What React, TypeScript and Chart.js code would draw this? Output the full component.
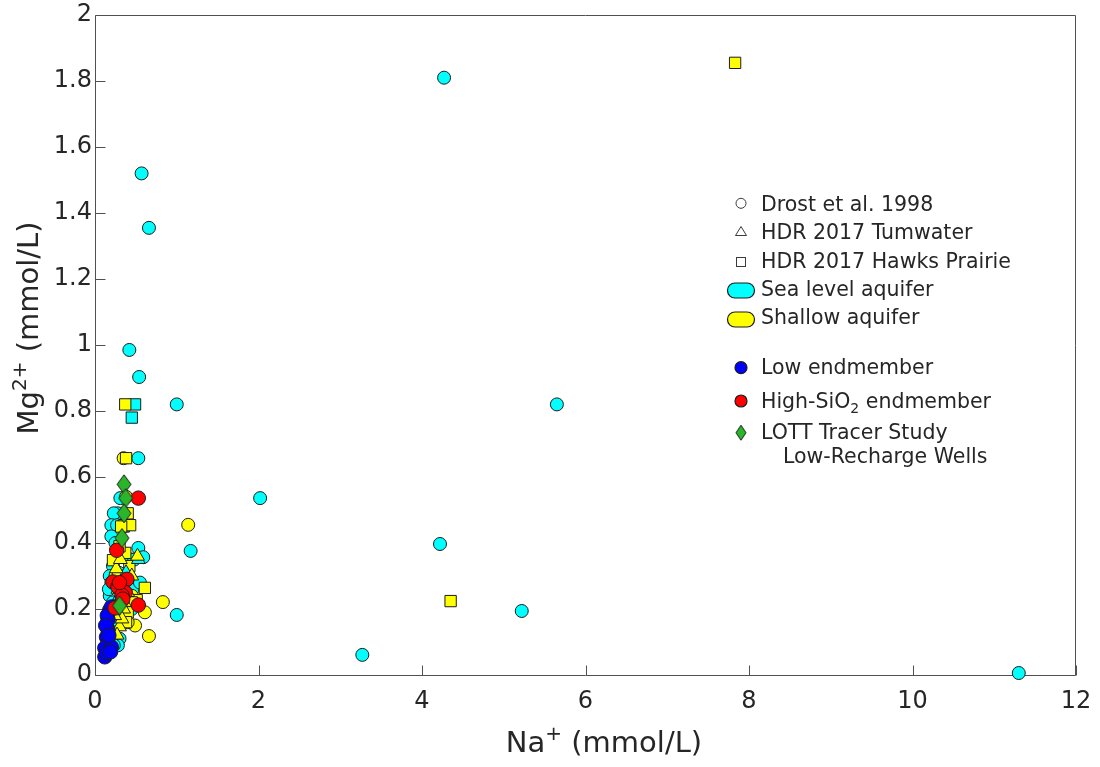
import React, { useEffect, useRef } from "react";
import { Chart, registerables } from "chart.js";

Chart.register(...registerables);

// ---------- axis ticks ----------
const xTicks = [0, 2, 4, 6, 8, 10, 12];
const yTicks = [0, 0.2, 0.4, 0.6, 0.8, 1, 1.2, 1.4, 1.6, 1.8, 2];

// ---------- Drost et al. 1998 (circles) ----------
const seaDrostNa = [4.27, 0.57, 0.66, 0.42, 0.54, 1.0, 5.65, 2.02, 4.22, 1.17, 5.22, 1.0, 3.27, 11.3, 0.53, 0.31, 0.28, 0.23, 0.2, 0.27, 0.53, 0.59, 0.44, 0.2, 0.25, 0.3, 0.35, 0.22, 0.29, 0.37, 0.18, 0.2, 0.26, 0.32, 0.42, 0.46, 0.18, 0.22, 0.3, 0.4, 0.45, 0.35, 0.28, 0.25, 0.22, 0.3, 0.28, 0.2, 0.48, 0.55, 0.23, 0.17];
const seaDrostMg = [1.81, 1.52, 1.355, 0.985, 0.903, 0.82, 0.82, 0.536, 0.397, 0.376, 0.194, 0.182, 0.061, 0.006, 0.657, 0.536, 0.49, 0.49, 0.454, 0.454, 0.385, 0.357, 0.35, 0.42, 0.4, 0.38, 0.36, 0.33, 0.31, 0.3, 0.3, 0.28, 0.25, 0.27, 0.27, 0.26, 0.24, 0.22, 0.22, 0.21, 0.2, 0.18, 0.17, 0.15, 0.13, 0.11, 0.09, 0.1, 0.35, 0.28, 0.09, 0.26];
const shallowDrostNa = [1.14, 0.83, 0.66, 0.61, 0.35, 0.38, 0.49, 0.45, 0.25, 0.31, 0.4];
const shallowDrostMg = [0.455, 0.221, 0.118, 0.19, 0.657, 0.54, 0.15, 0.24, 0.3, 0.2, 0.16];

// ---------- HDR 2017 Tumwater (triangles) ----------
const seaTumNa = [0.53, 0.38, 0.3];
const seaTumMg = [0.35, 0.31, 0.24];
const shallowTumNa = [0.26, 0.3, 0.27, 0.35, 0.33, 0.4, 0.45, 0.28, 0.31, 0.36, 0.24, 0.52];
const shallowTumMg = [0.322, 0.146, 0.121, 0.2, 0.17, 0.25, 0.3, 0.26, 0.35, 0.22, 0.18, 0.36];

// ---------- HDR 2017 Hawks Prairie (squares) ----------
const seaHawksNa = [0.49, 0.45, 0.35];
const seaHawksMg = [0.82, 0.78, 0.45];
const shallowHawksNa = [7.83, 4.35, 0.37, 0.38, 0.36, 0.43, 0.4, 0.37, 0.22, 0.61, 0.51, 0.32, 0.3, 0.42, 0.28, 0.35, 0.45, 0.4, 0.38, 0.25];
const shallowHawksMg = [1.855, 0.224, 0.82, 0.657, 0.454, 0.454, 0.49, 0.37, 0.348, 0.264, 0.227, 0.45, 0.39, 0.33, 0.3, 0.26, 0.22, 0.19, 0.16, 0.28];

// ---------- endmembers ----------
const lowEndNa = [0.18, 0.2, 0.16, 0.16, 0.14, 0.16, 0.12, 0.2, 0.12, 0.14, 0.15, 0.13, 0.17, 0.19];
const lowEndMg = [0.197, 0.206, 0.167, 0.136, 0.115, 0.097, 0.082, 0.085, 0.055, 0.067, 0.18, 0.15, 0.12, 0.07];
const highSiNa = [0.53, 0.265, 0.22, 0.39, 0.28, 0.37, 0.33, 0.53, 0.245, 0.34, 0.3];
const highSiMg = [0.536, 0.378, 0.282, 0.29, 0.267, 0.25, 0.242, 0.212, 0.203, 0.23, 0.28];

// ---------- LOTT Tracer Study ----------
const lottNa = [0.355, 0.375, 0.355, 0.33, 0.3];
const lottMg = [0.578, 0.536, 0.49, 0.415, 0.21];

const FONT = '"DejaVu Sans", Verdana, sans-serif';
const TEXT = "#262626";
const EDGE = "#1c1c1c";
const CYAN = "#00ffff";
const YELLOW = "#ffff00";
const BLUE = "#0000ff";
const RED = "#ff0000";
const GREEN = "#2ab52a";

const pts = (xs: number[], ys: number[]) => xs.map((x, i) => ({ x, y: ys[i] }));

function diamond(w: number, h: number, fill: string) {
  const c = document.createElement("canvas");
  c.width = w + 2;
  c.height = h + 2;
  const g = c.getContext("2d")!;
  g.beginPath();
  g.moveTo(c.width / 2, 1);
  g.lineTo(c.width - 1, c.height / 2);
  g.lineTo(c.width / 2, c.height - 1);
  g.lineTo(1, c.height / 2);
  g.closePath();
  g.fillStyle = fill;
  g.fill();
  g.lineWidth = 1;
  g.strokeStyle = EDGE;
  g.stroke();
  return c;
}

const fmt = (v: number) => String(Math.round(v * 10) / 10);

function drawParts(ctx: CanvasRenderingContext2D, parts: { t: string; s: number; dy: number }[], cx: number, y: number) {
  let total = 0;
  for (const p of parts) {
    ctx.font = `${p.s}px ${FONT}`;
    total += ctx.measureText(p.t).width;
  }
  let x = cx - total / 2;
  for (const p of parts) {
    ctx.font = `${p.s}px ${FONT}`;
    ctx.fillText(p.t, x, y + p.dy);
    x += ctx.measureText(p.t).width;
  }
}

function pill(ctx: CanvasRenderingContext2D, cx: number, cy: number, w: number, h: number, fill: string) {
  const r = h / 2;
  ctx.beginPath();
  ctx.moveTo(cx - w / 2 + r, cy - r);
  ctx.lineTo(cx + w / 2 - r, cy - r);
  ctx.arc(cx + w / 2 - r, cy, r, -Math.PI / 2, Math.PI / 2);
  ctx.lineTo(cx - w / 2 + r, cy + r);
  ctx.arc(cx - w / 2 + r, cy, r, Math.PI / 2, (3 * Math.PI) / 2);
  ctx.closePath();
  ctx.fillStyle = fill;
  ctx.fill();
  ctx.lineWidth = 1.2;
  ctx.strokeStyle = EDGE;
  ctx.stroke();
}

const framePlugin = {
  id: "frame",
  beforeDatasetsDraw(chart: any) {
    const { ctx, chartArea: a, scales } = chart;
    ctx.save();
    ctx.strokeStyle = "#505050";
    ctx.lineWidth = 1;
    const L = Math.round(a.left) + 0.5;
    const R = Math.round(a.right) - 0.5;
    const T = Math.round(a.top) + 0.5;
    const B = Math.round(a.bottom) + 0.5;
    ctx.beginPath();
    ctx.rect(L, T, R - L, B - T);
    ctx.stroke();
    ctx.beginPath();
    for (const v of yTicks) {
      const y = Math.round(scales.y.getPixelForValue(v)) + 0.5;
      ctx.moveTo(L, y);
      ctx.lineTo(L + 10, y);
    }
    for (const v of xTicks) {
      const x = Math.round(scales.x.getPixelForValue(v)) + 0.5;
      ctx.moveTo(x, B);
      ctx.lineTo(x, B - 10);
    }
    ctx.stroke();
    ctx.restore();
  },
  afterDraw(chart: any) {
    const { ctx } = chart;
    ctx.save();
    ctx.fillStyle = TEXT;
    ctx.textBaseline = "alphabetic";
    ctx.textAlign = "left";
    // axis titles
    drawParts(
      ctx,
      [
        { t: "Na", s: 29, dy: 0 },
        { t: "+", s: 20, dy: -12 },
        { t: " (mmol/L)", s: 29, dy: 0 },
      ],
      604,
      752
    );
    ctx.save();
    ctx.translate(38, 328);
    ctx.rotate(-Math.PI / 2);
    drawParts(
      ctx,
      [
        { t: "Mg", s: 29, dy: 0 },
        { t: "2+", s: 20, dy: -12 },
        { t: " (mmol/L)", s: 29, dy: 0 },
      ],
      0,
      0
    );
    ctx.restore();

    // legend
    const mx = 741;
    const tx = 761;
    ctx.font = `20.5px ${FONT}`;
    ctx.fillStyle = TEXT;
    const rows = [
      { label: "Drost et al. 1998", b: 210.7 },
      { label: "HDR 2017 Tumwater", b: 239.1 },
      { label: "HDR 2017 Hawks Prairie", b: 267.5 },
      { label: "Sea level aquifer", b: 295.9 },
      { label: "Shallow aquifer", b: 324.3 },
      { label: "Low endmember", b: 374.3 },
    ];
    for (const r of rows) ctx.fillText(r.label, tx, r.b);
    // High-SiO2
    let x = tx;
    ctx.fillText("High-SiO", x, 407.7);
    x += ctx.measureText("High-SiO").width;
    ctx.font = `14px ${FONT}`;
    ctx.fillText("2", x, 412.7);
    x += ctx.measureText("2").width;
    ctx.font = `20.5px ${FONT}`;
    ctx.fillText(" endmember", x, 407.7);
    ctx.fillText("LOTT Tracer Study", tx, 439.3);
    ctx.fillText("Low-Recharge Wells", 783, 462.7);

    // legend markers
    ctx.strokeStyle = "#3a3a3a";
    ctx.lineWidth = 1;
    ctx.beginPath();
    ctx.arc(mx, 203.3, 5, 0, Math.PI * 2);
    ctx.stroke();
    ctx.beginPath();
    ctx.moveTo(mx, 226.5);
    ctx.lineTo(mx + 5.5, 235.5);
    ctx.lineTo(mx - 5.5, 235.5);
    ctx.closePath();
    ctx.stroke();
    ctx.strokeRect(mx - 4.5, 257.5, 9, 9);
    pill(ctx, mx, 290.5, 27, 15, CYAN);
    pill(ctx, mx, 319.5, 27, 15, YELLOW);
    for (const [cy, col] of [
      [367.7, BLUE],
      [401, RED],
    ] as [number, string][]) {
      ctx.beginPath();
      ctx.arc(mx, cy, 6, 0, Math.PI * 2);
      ctx.fillStyle = col;
      ctx.fill();
      ctx.strokeStyle = EDGE;
      ctx.stroke();
    }
    const d = diamond(10, 15, GREEN);
    ctx.drawImage(d, mx - d.width / 2, 432.7 - d.height / 2);
    ctx.restore();
  },
};

export default function App() {
  const ref = useRef<HTMLCanvasElement | null>(null);

  useEffect(() => {
    if (!ref.current) return;
    const dia = diamond(14, 19, GREEN);
    const base = { showLine: false, clip: false as any, borderColor: EDGE, borderWidth: 1 };
    const chart = new Chart(ref.current, {
      type: "scatter",
      data: {
        datasets: [
          { ...base, label: "LOTT Tracer Study Low-Recharge Wells", data: pts(lottNa, lottMg), pointStyle: dia as any, pointRadius: 9, backgroundColor: GREEN },
          { ...base, label: "High-SiO2 endmember", data: pts(highSiNa, highSiMg), pointStyle: "circle", pointRadius: 7.2, backgroundColor: RED },
          { ...base, label: "Low endmember", data: pts(lowEndNa, lowEndMg), pointStyle: "circle", pointRadius: 7.2, backgroundColor: BLUE },
          { ...base, label: "Tumwater shallow", data: pts(shallowTumNa, shallowTumMg), pointStyle: "triangle", pointRadius: 8, backgroundColor: YELLOW },
          { ...base, label: "Tumwater sea level", data: pts(seaTumNa, seaTumMg), pointStyle: "triangle", pointRadius: 8, backgroundColor: CYAN },
          { ...base, label: "Hawks Prairie shallow", data: pts(shallowHawksNa, shallowHawksMg), pointStyle: "rect", pointRadius: 8, backgroundColor: YELLOW },
          { ...base, label: "Hawks Prairie sea level", data: pts(seaHawksNa, seaHawksMg), pointStyle: "rect", pointRadius: 8, backgroundColor: CYAN },
          { ...base, label: "Drost shallow", data: pts(shallowDrostNa, shallowDrostMg), pointStyle: "circle", pointRadius: 6.5, backgroundColor: YELLOW },
          { ...base, label: "Drost sea level", data: pts(seaDrostNa, seaDrostMg), pointStyle: "circle", pointRadius: 6.5, backgroundColor: CYAN },
        ],
      },
      options: {
        animation: false,
        responsive: false,
        devicePixelRatio: 1,
        events: [],
        layout: { padding: { top: 15, right: 24, bottom: 0, left: 0 } },
        plugins: { legend: { display: false }, tooltip: { enabled: false } },
        scales: {
          x: {
            type: "linear",
            min: 0,
            max: 12,
            grid: { display: false, drawTicks: false },
            border: { display: false },
            ticks: { font: { family: FONT, size: 24 }, color: TEXT, padding: 12, maxRotation: 0, callback: (v: any) => fmt(Number(v)) },
            afterBuildTicks: (s: any) => {
              s.ticks = xTicks.map((v) => ({ value: v }));
            },
            afterFit: (s: any) => {
              s.height = 92;
              s.paddingLeft = 0;
              s.paddingRight = 0;
              s.paddingTop = 0;
              s.paddingBottom = 0;
            },
          },
          y: {
            type: "linear",
            min: 0,
            max: 2,
            grid: { display: false, drawTicks: false },
            border: { display: false },
            ticks: { font: { family: FONT, size: 24 }, color: TEXT, padding: 3, callback: (v: any) => fmt(Number(v)) },
            afterBuildTicks: (s: any) => {
              s.ticks = yTicks.map((v) => ({ value: v }));
            },
            afterFit: (s: any) => {
              s.width = 95;
              s.paddingLeft = 0;
              s.paddingRight = 0;
              s.paddingTop = 0;
              s.paddingBottom = 0;
            },
          },
        },
      },
      plugins: [framePlugin],
    });
    return () => chart.destroy();
  }, []);

  return (
    <div style={{ position: "fixed", left: 0, top: 0, width: 1100, height: 767, background: "#fff" }}>
      <canvas ref={ref} width={1100} height={767} style={{ width: 1100, height: 767, display: "block" }} />
    </div>
  );
}
